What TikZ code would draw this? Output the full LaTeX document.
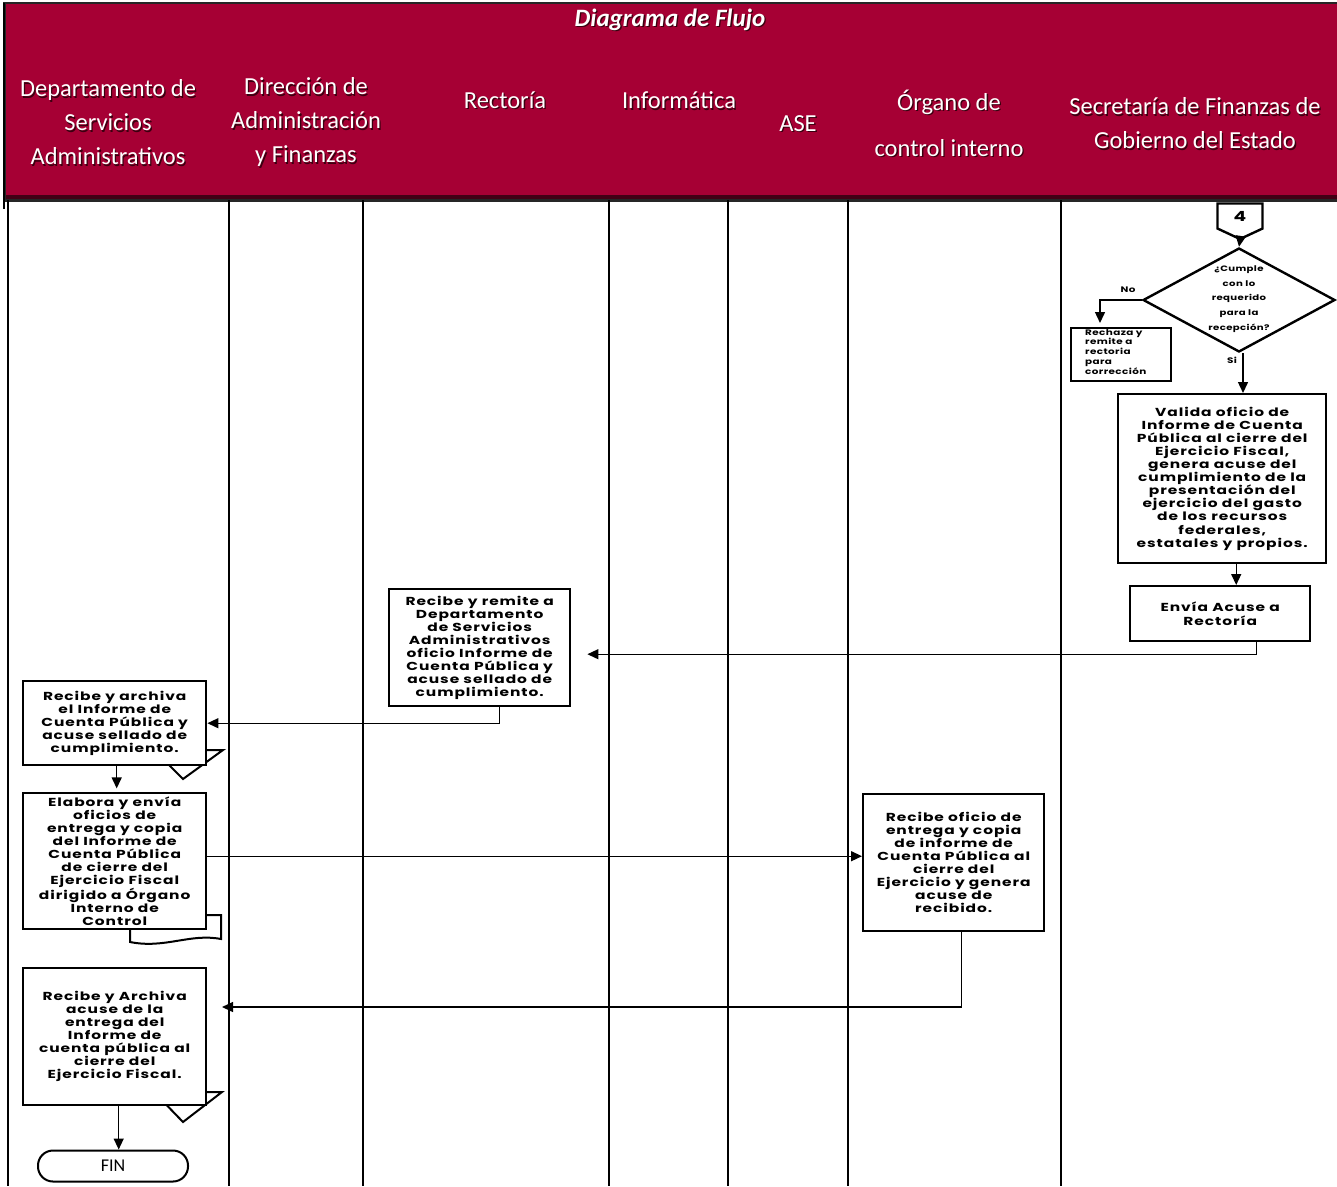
\documentclass[tikz,border=0pt]{standalone}
\usepackage{fontspec}
\usetikzlibrary{arrows.meta,shapes.geometric,shapes.symbols,calc}
\newfontfamily\hdrfont{Carlito}
\newfontfamily\boxfont{Poppins}[FakeStretch=1.33,LetterSpace=8]
\newfontfamily\smallfont{Poppins}[FakeStretch=1.3,LetterSpace=5]
\definecolor{wine}{HTML}{A60034}
\definecolor{wineshadow}{HTML}{3A0010}
% white header text with a dark drop shadow
\newcommand\sh[1]{\makebox[0pt][l]{\hspace{1.3pt}\raisebox{-1.3pt}{\textcolor{wineshadow}{#1}}}#1}
\begin{document}
\begin{tikzpicture}[x=1pt,y=-1pt,
  lane/.style={line width=1.8pt},
  arr/.style={line width=1.4pt,-{Triangle[length=11pt,width=10pt]}},
  hdr/.style={text=white,align=center,inner sep=0,font=\hdrfont\fontsize{24.5}{34}\selectfont},
  box/.style={draw,line width=2.4pt,fill=white,anchor=north west,inner sep=0,align=center,
    font=\boxfont\bfseries\fontsize{11.6}{13.05}\selectfont},
  tiny/.style={inner sep=0,font=\smallfont\bfseries\fontsize{8}{9.8}\selectfont},
  archive/.style={line width=2pt,line join=miter}
]
\useasboundingbox (0,0) rectangle (1337,1186);
\fill[white] (0,0) rectangle (1337,1186);

% ---- header band ----
\fill[black!85] (3,2) rectangle (1337,202);
\fill[wine] (6,4) rectangle (1337,195);
\fill[wine!40!black] (6,195) rectangle (1337,199);
\draw[line width=2pt] (4,3) -- (4,209);

\node[hdr,font=\hdrfont\bfseries\itshape\fontsize{25}{28}\selectfont] (title) at (670,20) {\sh{Diagrama de Flujo}};
\node[hdr] (h1) at (108,123) {\sh{Departamento de}\\\sh{Servicios}\\\sh{Administrativos}};
\node[hdr] (h2) at (306,123) {\sh{Dirección de}\\\sh{Administración}\\\sh{y Finanzas}};
\node[hdr] (h3) at (505,101) {\sh{Rectoría}};
\node[hdr] (h4) at (679,101) {\sh{Informática}};
\node[hdr] (h5) at (798,124) {\sh{ASE}};
\node[hdr,font=\hdrfont\fontsize{24.5}{46}\selectfont] (h6) at (949,124) {\sh{Órgano de}\\\sh{control interno}};
\node[hdr] (h7) at (1195,124) {\sh{Secretaría de Finanzas de}\\\sh{Gobierno del Estado}};

% ---- swimlane separators ----
\foreach \x in {8,229,363,609,728,848,1061}
  \draw[lane] (\x,200) -- (\x,1186);

% ---- Secretaría de Finanzas ----
\node[draw,line width=2.4pt,fill=white,shape=signal,signal to=south,signal pointer angle=130,
  minimum width=45pt,minimum height=28pt,inner sep=0,font=\boxfont\bfseries\fontsize{14}{14}\selectfont]
  (c4) at (1240,216) {4};
\node[draw,line width=2.4pt,fill=white,shape=diamond,minimum width=192pt,minimum height=104pt,inner sep=0,
  font=\smallfont\bfseries\fontsize{7.8}{14.6}\selectfont]
  (dm) at (1239,300) {\smash{\begin{tabular}{@{}c@{}}¿Cumple\\con lo\\requerido\\para la\\recepción?\end{tabular}}};
\node[box,minimum width=100pt,minimum height=53pt,line width=2pt] (rz) at (1070,327) {};
\node[tiny,anchor=north west,align=left] (rzt) at (1085,329) {Rechaza y\\remite a\\rectoria\\para\\corrección};
\node[tiny] (no) at (1128,290) {No};
\node[tiny] (si) at (1232,360) {Si};
\node[box,minimum width=208pt,minimum height=169pt] (va) at (1117,393)
  {Valida oficio de\\Informe de Cuenta\\Pública al cierre del\\Ejercicio Fiscal,\\genera acuse del\\cumplimiento de la\\presentación del\\ejercicio del gasto\\de los recursos\\federales,\\estatales y propios.};
\node[box,minimum width=180pt,minimum height=55pt] (en) at (1129,585) {Envía Acuse a\\Rectoría};

% ---- Rectoría ----
\node[box,minimum width=181pt,minimum height=117pt] (rr) at (388,588)
  {Recibe y remite a\\Departamento\\de Servicios\\Administrativos\\oficio Informe de\\Cuenta Pública y\\acuse sellado de\\cumplimiento.};

% ---- Departamento de Servicios Administrativos ----
\draw[archive] (154,750) -- (223,750) -- (183,779) -- cycle;
\node[box,minimum width=183pt,minimum height=84pt] (a1) at (22,680)
  {Recibe y archiva\\el Informe de\\Cuenta Pública y\\acuse sellado de\\cumplimiento.};
\node[box,minimum width=183pt,minimum height=136pt] (el) at (22,792)
  {Elabora y envía\\oficios de\\entrega y copia\\del Informe de\\Cuenta Pública\\de cierre del\\Ejercicio Fiscal\\dirigido a Órgano\\Interno de\\Control};
\draw[archive] (205,915) -- (221,915) -- (221,939) .. controls (190,933) and (165,949) .. (130,942) -- (130,929);
\draw[archive] (154,1092) -- (222,1092) -- (183,1122) -- cycle;
\node[box,minimum width=183pt,minimum height=137pt] (a2) at (22,967)
  {Recibe y Archiva\\acuse de la\\entrega del\\Informe de\\cuenta pública al\\cierre del\\Ejercicio Fiscal.};
\node[draw,line width=2pt,fill=white,rounded corners=15pt,minimum width=150pt,minimum height=31pt,
  inner sep=0,font=\hdrfont\fontsize{18}{18}\selectfont] (fin) at (113,1166) {FIN};

% ---- Órgano de control interno ----
\node[box,minimum width=181pt,minimum height=137pt] (ro) at (862,793)
  {Recibe oficio de\\entrega y copia\\de informe de\\Cuenta Pública al\\cierre del\\Ejercicio y genera\\acuse de\\recibido.};

% ---- connectors ----
\coordinate (a2in) at (222,1007);
\draw[arr] (c4.south) -- (dm.north);
\draw[arr] (dm.west) -| ($(rz.north west)+(30,-4)$);
\draw[arr] ([xshift=4pt]dm.south) -- ([xshift=4pt]dm.south |- va.north);
\draw[arr] ([xshift=14pt]va.south) -- ([xshift=14pt]va.south |- en.north);
\draw[arr] ([xshift=36pt]en.south) |- ($(rr.east)+(16,6.5)$);
\draw[arr] ([xshift=20pt]rr.south) |- (a1.east);
\draw[arr] ([xshift=2pt]a1.south) -- ++(0,22);
\draw[arr] ([yshift=5pt]el.east) -- ([yshift=5pt]el.east -| ro.west);
\draw[arr] ([xshift=8pt]ro.south) |- (a2in);
\draw[arr] ([xshift=4pt]a2.south) -- ([xshift=4pt]a2.south |- fin.north);
\end{tikzpicture}
\end{document}
